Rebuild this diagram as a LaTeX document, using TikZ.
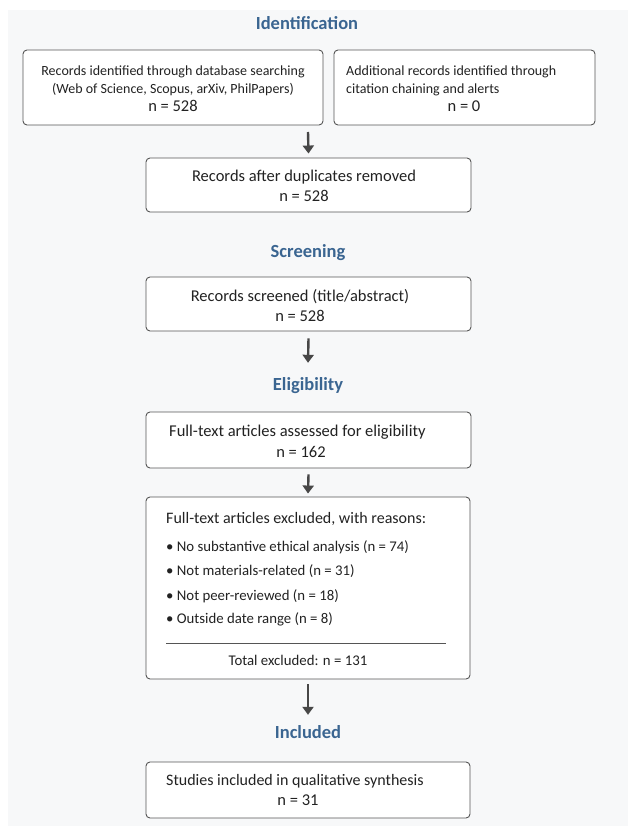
\documentclass[tikz,border=0pt]{standalone}
\usepackage{fontspec}
\setmainfont{Carlito}
\usetikzlibrary{arrows.meta}
\definecolor{panel}{HTML}{F7F8F9}
\definecolor{titleblue}{HTML}{3A6591}
\definecolor{edge}{HTML}{555555}
\definecolor{arrowc}{HTML}{474747}
\definecolor{txt}{HTML}{222222}
\begin{document}
\begin{tikzpicture}[x=1pt,y=-1pt,
  box/.style={draw=edge,line width=0.9pt,rounded corners=4pt,fill=white,inner sep=0pt},
  body/.style={font=\fontsize{14}{18}\selectfont,text=txt,inner sep=0pt,anchor=base},
  bodyl/.style={body,anchor=base west},
  big/.style={body,font=\fontsize{16.5}{20}\selectfont},
  bigl/.style={big,anchor=base west},
  item/.style={bodyl,font=\fontsize{14.8}{20}\selectfont},
  heading/.style={font=\fontsize{18.5}{20}\selectfont\bfseries,text=titleblue,inner sep=0pt,anchor=base},
  arr/.style={draw=arrowc,line width=2.4pt,-{Triangle[length=8pt,width=11pt]}}]
\useasboundingbox (0,0) rectangle (636,826);
\fill[white] (0,0) rectangle (636,826);
\fill[panel] (8,10) rectangle (628,826);

% Identification
\node[heading] (hid) at (307,30) {Identification};
\node[box,minimum width=300,minimum height=75] (A) at (173,87.5) {};
\node[body] (a1) at (173,76) {Records identified through database searching};
\node[body] (a2) at (173,94) {(Web of Science, Scopus, arXiv, PhilPapers)};
\node[big] (a3) at (173,112) {n = 528};
\node[box,minimum width=261,minimum height=75] (B) at (464.5,87.5) {};
\node[bodyl] (b1) at (346,76) {Additional records identified through};
\node[bodyl] (b2) at (346,94) {citation chaining and alerts};
\node[big] (b3) at (464,112) {n = 0};

\node[box,minimum width=325,minimum height=54] (C) at (308.5,185) {};
\node[big] (c1) at (304,182) {Records after duplicates removed};
\node[big] (c2) at (304,202) {n = 528};
\coordinate (abot) at (308,132);
\draw[arr] (abot) -- ([yshift=4pt]C.north);

% Screening
\node[heading] (hsc) at (308,257) {Screening};
\node[box,minimum width=325,minimum height=54] (D) at (308.5,304) {};
\node[big] (d1) at (300,301) {Records screened (title/abstract)};
\node[big] (d2) at (300,321) {n = 528};

% Eligibility
\node[heading] (hel) at (308,390) {Eligibility};
\draw[arr] ([yshift=-7pt]D.south) -- ([yshift=14pt]hel.north);
\node[box,minimum width=325,minimum height=56] (E) at (308.5,440) {};
\node[bigl] (e1) at (169,436) {Full-text articles assessed for eligibility};
\node[big] (e2) at (301,457) {n = 162};

\node[box,minimum width=324,minimum height=182] (F) at (308,588) {};
\draw[arr] ([yshift=-6pt]E.south) -- ([yshift=3pt]F.north);
\node[bodyl,font=\fontsize{16}{20}\selectfont] (f0) at (166,523) {Full-text articles excluded, with reasons:};
\node[item] (f1) at (166,551) {\textbullet\ No substantive ethical analysis (n = 74)};
\node[item] (f2) at (166,575) {\textbullet\ Not materials-related (n = 31)};
\node[item] (f3) at (166,600) {\textbullet\ Not peer-reviewed (n = 18)};
\node[item] (f4) at (166,623) {\textbullet\ Outside date range (n = 8)};
\coordinate (rl) at (166,643);
\coordinate (rr) at (446,643);
\draw[edge,line width=0.8pt] (rl) -- (rr);
\node[body,font=\fontsize{14.8}{20}\selectfont] (f5) at (298,665) {Total excluded: n = 131};

% Included
\node[heading] (hin) at (308,738) {Included};
\draw[arr] ([yshift=-5pt]F.south) -- ([yshift=10pt]hin.north);
\node[box,minimum width=324,minimum height=56] (G) at (308,790) {};
\node[bodyl,font=\fontsize{16}{20}\selectfont] (g1) at (166,785) {Studies included in qualitative synthesis};
\node[big] (g2) at (298,805) {n = 31};
\end{tikzpicture}
\end{document}
